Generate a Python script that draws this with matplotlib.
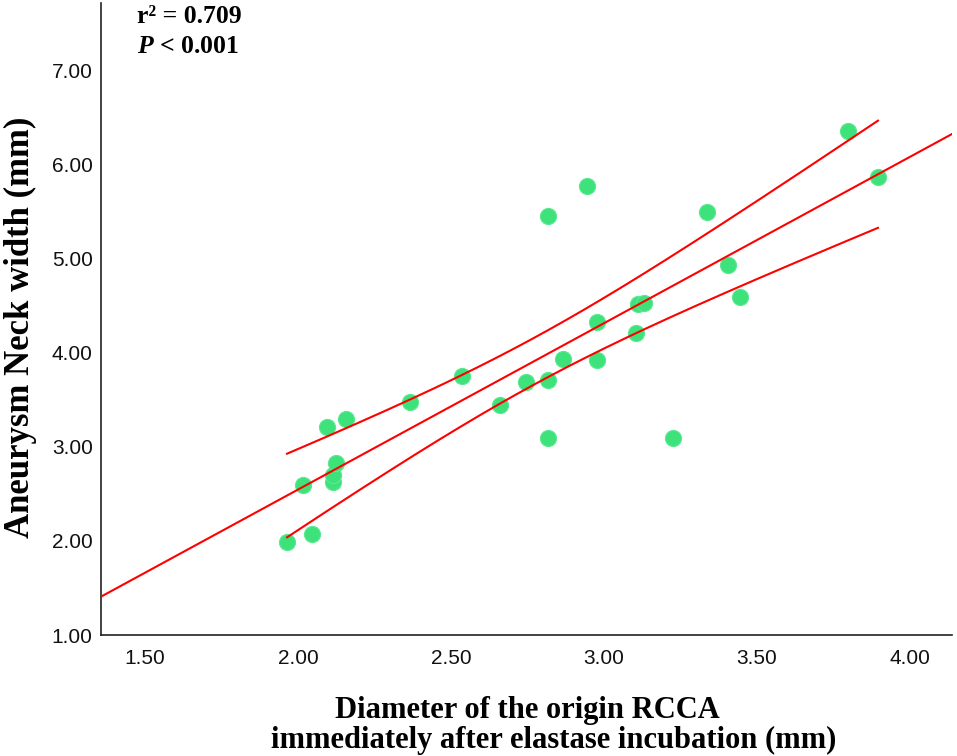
import numpy as np
import matplotlib
matplotlib.use("Agg")
import matplotlib.pyplot as plt

# Data
diameter = [1.964, 2.046, 2.016, 2.095, 2.114, 2.114, 2.124, 2.157, 2.366, 2.536,
            2.660, 2.745, 2.817, 2.817, 2.817, 2.866, 2.944, 2.977, 2.977, 3.105,
            3.110, 3.130, 3.225, 3.337, 3.405, 3.444, 3.797, 3.895]
neck_width = [1.99, 2.07, 2.60, 3.21, 2.63, 2.70, 2.83, 3.30, 3.48, 3.75,
              3.45, 3.69, 3.71, 3.09, 5.46, 3.94, 5.77, 4.33, 3.92, 4.21,
              4.52, 4.53, 3.10, 5.50, 4.93, 4.59, 6.36, 5.87]
x_ticks = [1.50, 2.00, 2.50, 3.00, 3.50, 4.00]
y_ticks = [1.00, 2.00, 3.00, 4.00, 5.00, 6.00, 7.00]
t_crit = 2.056  # t(0.975, df=26)

plt.rcParams['mathtext.fontset'] = 'custom'
plt.rcParams['mathtext.rm'] = 'Liberation Serif:bold'
plt.rcParams['mathtext.it'] = 'Liberation Serif:italic:bold'

fig = plt.figure(figsize=(9.57, 7.56), dpi=100)
ax = fig.add_axes([0.1055, 0.160, 0.8893, 0.836])

x = np.array(diameter)
y = np.array(neck_width)
n = len(x)
slope, intercept = np.polyfit(x, y, 1)
yhat = intercept + slope * x
s = np.sqrt(np.sum((y - yhat) ** 2) / (n - 2))
sxx = np.sum((x - x.mean()) ** 2)

xlim = (1.356, 4.137)
ylim = (1.0, 7.72)

xl = np.linspace(xlim[0], xlim[1], 200)
ax.plot(xl, intercept + slope * xl, color='#ff0000', lw=1.5, zorder=3)
xc = np.linspace(x.min(), x.max(), 200)
half = t_crit * s * np.sqrt(1.0 / n + (xc - x.mean()) ** 2 / sxx)
fit_c = intercept + slope * xc
ax.plot(xc, fit_c + half, color='#ff0000', lw=1.5, zorder=3)
ax.plot(xc, fit_c - half, color='#ff0000', lw=1.5, zorder=3)

ax.scatter(x, y, s=135, color='#3ee27a', edgecolors='#5ee894', linewidths=0.8, zorder=2)

ax.set_xlim(*xlim)
ax.set_ylim(*ylim)
ax.set_xticks(x_ticks)
ax.set_xticklabels([f"{v:.2f}" for v in x_ticks])
ax.set_yticks(y_ticks)
ax.set_yticklabels([f"{v:.2f}" for v in y_ticks])
for sp in ['top', 'right']:
    ax.spines[sp].set_visible(False)
for sp in ['left', 'bottom']:
    ax.spines[sp].set_linewidth(1.2)
    ax.spines[sp].set_color('#222222')
ax.tick_params(axis='both', length=0, labelsize=15, colors='#111111')
ax.tick_params(axis='x', pad=10)
ax.tick_params(axis='y', pad=6)
for lab in ax.get_xticklabels() + ax.get_yticklabels():
    lab.set_fontfamily('Liberation Sans')

fig.text(0.021, 0.567, 'Aneurysm Neck width (mm)', rotation=90, ha='center', va='center',
         fontsize=25, fontweight='bold', family='Liberation Serif')
fig.text(0.551, 0.060, 'Diameter of the origin RCCA', ha='center', va='center',
         fontsize=22, fontweight='bold', family='Liberation Serif')
fig.text(0.579, 0.020, 'immediately after elastase incubation (mm)', ha='center', va='center',
         fontsize=22, fontweight='bold', family='Liberation Serif')

fig.text(0.143, 0.978, 'r² = 0.709', ha='left', va='center',
         fontsize=18.5, fontweight='bold', family='Liberation Serif')
fig.text(0.143, 0.938, r'$P$ < 0.001', ha='left', va='center',
         fontsize=18.5, fontweight='bold', family='Liberation Serif')

fig.savefig('out.png', dpi=100, facecolor='white')
